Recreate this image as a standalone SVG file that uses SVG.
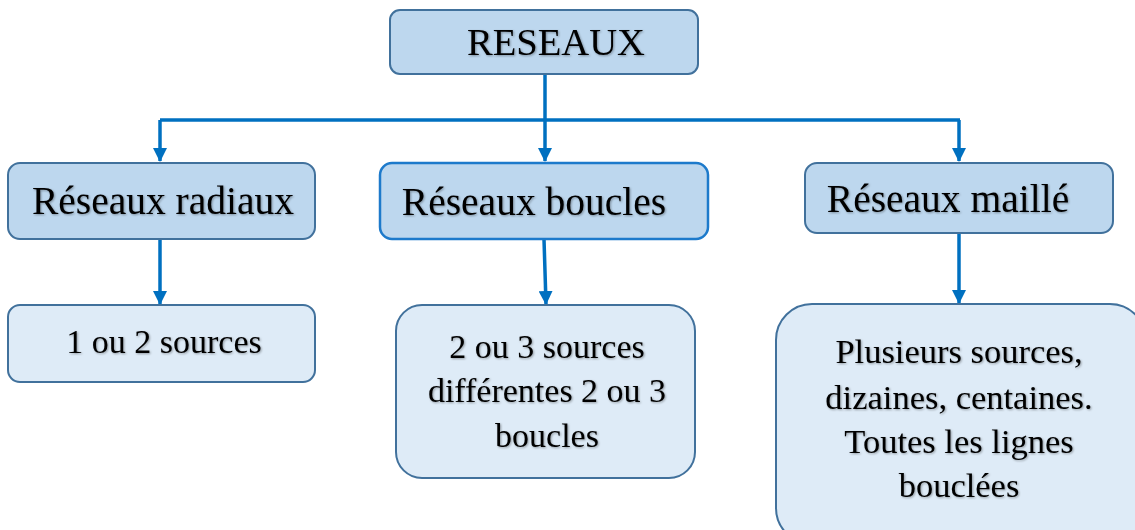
<svg xmlns="http://www.w3.org/2000/svg" width="1135" height="530" viewBox="0 0 1135 530">
<style>
.dark{fill:#bdd7ee;stroke:#41719c;stroke-width:2}
.dark2{fill:#bdd7ee;stroke:#1d7acb;stroke-width:2.5}
.light{fill:#deebf7;stroke:#41719c;stroke-width:2}
.t{font-family:"Liberation Serif","Times New Roman",serif;fill:#000;filter:url(#sh)}
.c{fill:none;stroke:#0070c0;stroke-width:3.5}
</style>
<defs>
<filter id="sh" x="-10%" y="-20%" width="120%" height="140%">
<feDropShadow dx="1" dy="1" stdDeviation="0.8" flood-color="#000" flood-opacity="0.35"/>
</filter>
<marker id="ah" markerWidth="14" markerHeight="14" viewBox="0 0 14 14" refX="13" refY="7" orient="auto" markerUnits="userSpaceOnUse">
<path d="M0,0 L14,7 L0,14 Z" fill="#0070c0"/>
</marker>
</defs>
<g id="connectors">
<path class="c" d="M545,74 V161" marker-end="url(#ah)"/>
<path class="c" d="M160,120 H960"/>
<path class="c" d="M160,120 V161" marker-end="url(#ah)"/>
<path class="c" d="M959,120 V161" marker-end="url(#ah)"/>
<path class="c" d="M160,239 V304" marker-end="url(#ah)"/>
<path class="c" d="M544,239 L546,304" marker-end="url(#ah)"/>
<path class="c" d="M959,233 V303" marker-end="url(#ah)"/>
</g>
<g id="reseaux">
<rect class="dark" x="390" y="10" width="308" height="64" rx="10"/>
<text class="t" x="556" y="55" font-size="37" text-anchor="middle" textLength="178" lengthAdjust="spacingAndGlyphs">RESEAUX</text>
</g>
<g id="radiaux">
<rect class="dark" x="8" y="163" width="307" height="76" rx="12"/>
<text class="t" x="163" y="214" font-size="39.5" text-anchor="middle">Réseaux radiaux</text>
</g>
<g id="boucles">
<rect class="dark2" x="380" y="163" width="328" height="76" rx="12"/>
<text class="t" x="534" y="215" font-size="39.5" text-anchor="middle">Réseaux boucles</text>
</g>
<g id="maille">
<rect class="dark" x="805" y="163" width="308" height="70" rx="12"/>
<text class="t" x="948" y="212" font-size="39.5" text-anchor="middle">Réseaux maillé</text>
</g>
<g id="sources12">
<rect class="light" x="8" y="305" width="307" height="77" rx="12"/>
<text class="t" x="164" y="353" font-size="34" text-anchor="middle">1 ou 2 sources</text>
</g>
<g id="sources23">
<rect class="light" x="396" y="305" width="299" height="173" rx="26"/>
<text class="t" x="547" y="358" font-size="34" text-anchor="middle">2 ou 3 sources</text>
<text class="t" x="547" y="402" font-size="34" text-anchor="middle">différentes 2 ou 3</text>
<text class="t" x="547" y="447" font-size="34" text-anchor="middle">boucles</text>
</g>
<g id="plusieurs">
<rect class="light" x="776" y="304" width="370" height="240" rx="36"/>
<text class="t" x="959" y="363" font-size="34.5" text-anchor="middle">Plusieurs sources,</text>
<text class="t" x="959" y="409" font-size="34.5" text-anchor="middle">dizaines, centaines.</text>
<text class="t" x="959" y="453" font-size="34.5" text-anchor="middle">Toutes les lignes</text>
<text class="t" x="959" y="497" font-size="34.5" text-anchor="middle">bouclées</text>
</g>
</svg>
